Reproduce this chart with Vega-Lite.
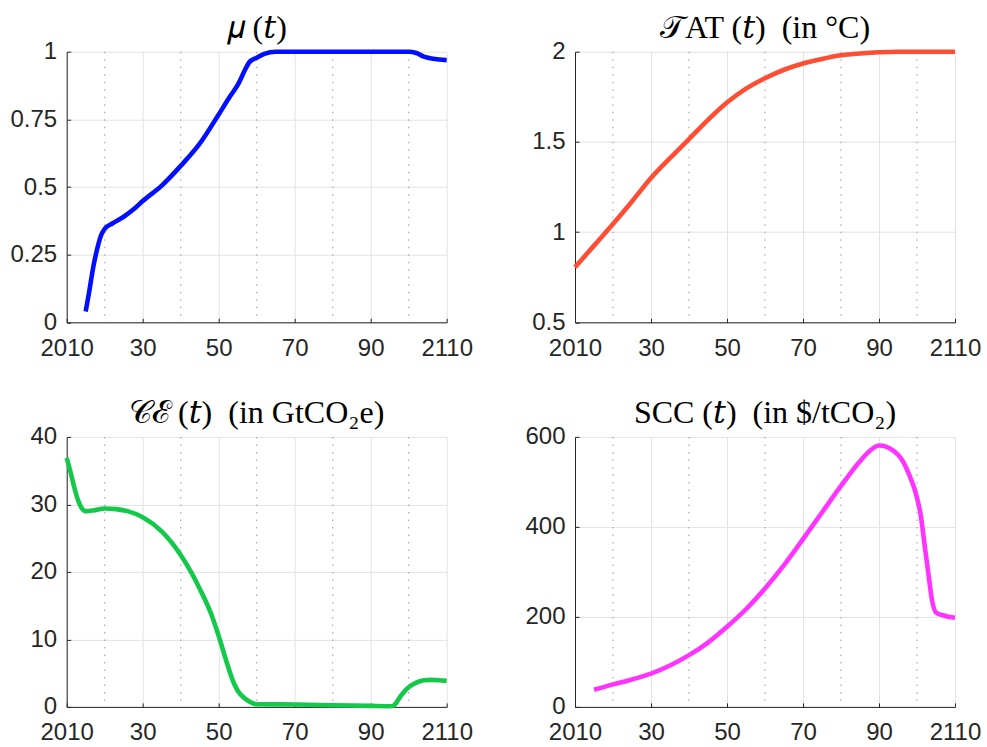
{
  "$schema": "https://vega.github.io/schema/vega-lite/v6.json",
  "autosize": {"type": "none"},
  "padding": {"left": 66.7, "top": 51.7, "right": 920.3, "bottom": 695.3},
  "background": "#ffffff",
  "config": {
    "view": {"stroke": null},
    "axis": {
      "domainColor": "#262626", "domainWidth": 1,
      "tickColor": "#262626", "tickWidth": 1, "tickSize": -4,
      "labelColor": "#262626", "labelFont": "Liberation Sans", "labelFontSize": 24,
      "gridColor": "#e2e2e2", "gridWidth": 1,
      "labelOverlap": false, "labelFlush": false, "title": null
    },
    "axisX": {"labelPadding": 18},
    "axisY": {"labelPadding": 14},
    "title": {"font": "Liberation Serif, DejaVu Serif", "fontSize": 32, "fontWeight": "normal", "color": "#000000", "anchor": "middle", "offset": -5}
  },
  "datasets": {
    "minor": [{"year": 2020}, {"year": 2040}, {"year": 2060}, {"year": 2080}, {"year": 2100}],
    "mu": [
      {"year": 2015, "v": 0.04}, {"year": 2016, "v": 0.12}, {"year": 2017, "v": 0.205}, {"year": 2018, "v": 0.27},
      {"year": 2019, "v": 0.32}, {"year": 2020, "v": 0.345}, {"year": 2022, "v": 0.365}, {"year": 2025, "v": 0.39},
      {"year": 2028, "v": 0.422}, {"year": 2030, "v": 0.448}, {"year": 2035, "v": 0.505}, {"year": 2040, "v": 0.578},
      {"year": 2045, "v": 0.66}, {"year": 2050, "v": 0.768}, {"year": 2053, "v": 0.835}, {"year": 2055, "v": 0.877},
      {"year": 2057, "v": 0.935}, {"year": 2058, "v": 0.96}, {"year": 2060, "v": 0.978}, {"year": 2062, "v": 0.992},
      {"year": 2065, "v": 1.0}, {"year": 2070, "v": 1.0}, {"year": 2080, "v": 1.0}, {"year": 2090, "v": 1.0},
      {"year": 2100, "v": 1.0}, {"year": 2102, "v": 0.995}, {"year": 2104, "v": 0.982}, {"year": 2106, "v": 0.975},
      {"year": 2108, "v": 0.971}, {"year": 2110, "v": 0.969}
    ],
    "tat": [
      {"year": 2010, "v": 0.805}, {"year": 2015, "v": 0.925}, {"year": 2020, "v": 1.045}, {"year": 2025, "v": 1.17},
      {"year": 2030, "v": 1.30}, {"year": 2035, "v": 1.41}, {"year": 2040, "v": 1.515}, {"year": 2045, "v": 1.622},
      {"year": 2050, "v": 1.718}, {"year": 2055, "v": 1.795}, {"year": 2060, "v": 1.853}, {"year": 2065, "v": 1.90},
      {"year": 2070, "v": 1.935}, {"year": 2075, "v": 1.96}, {"year": 2080, "v": 1.98}, {"year": 2085, "v": 1.99},
      {"year": 2090, "v": 1.997}, {"year": 2095, "v": 2.0}, {"year": 2100, "v": 2.0}, {"year": 2110, "v": 2.0}
    ],
    "ce": [
      {"year": 2010, "v": 36.9}, {"year": 2011, "v": 34.8}, {"year": 2012, "v": 32.5}, {"year": 2013, "v": 30.6},
      {"year": 2014, "v": 29.4}, {"year": 2015, "v": 29.0}, {"year": 2017, "v": 29.1}, {"year": 2020, "v": 29.4},
      {"year": 2023, "v": 29.3}, {"year": 2026, "v": 29.0}, {"year": 2030, "v": 28.1}, {"year": 2035, "v": 26.0},
      {"year": 2040, "v": 22.5}, {"year": 2043, "v": 19.7}, {"year": 2045, "v": 17.5}, {"year": 2048, "v": 13.8},
      {"year": 2050, "v": 10.5}, {"year": 2052, "v": 6.8}, {"year": 2054, "v": 3.5}, {"year": 2055, "v": 2.4},
      {"year": 2057, "v": 1.2}, {"year": 2058, "v": 0.8}, {"year": 2060, "v": 0.4}, {"year": 2070, "v": 0.35},
      {"year": 2080, "v": 0.25}, {"year": 2090, "v": 0.15}, {"year": 2095, "v": 0.1}, {"year": 2096, "v": 0.2},
      {"year": 2098, "v": 1.7}, {"year": 2100, "v": 2.9}, {"year": 2102, "v": 3.6}, {"year": 2104, "v": 3.95},
      {"year": 2106, "v": 4.0}, {"year": 2108, "v": 3.95}, {"year": 2110, "v": 3.85}
    ],
    "scc": [
      {"year": 2015, "v": 38}, {"year": 2020, "v": 50}, {"year": 2025, "v": 61}, {"year": 2030, "v": 74},
      {"year": 2035, "v": 92}, {"year": 2040, "v": 115}, {"year": 2045, "v": 143}, {"year": 2050, "v": 178},
      {"year": 2055, "v": 217}, {"year": 2060, "v": 263}, {"year": 2065, "v": 315}, {"year": 2070, "v": 373},
      {"year": 2075, "v": 432}, {"year": 2080, "v": 491}, {"year": 2085, "v": 546}, {"year": 2088, "v": 572},
      {"year": 2090, "v": 581}, {"year": 2092, "v": 578}, {"year": 2094, "v": 568}, {"year": 2096, "v": 550},
      {"year": 2098, "v": 515}, {"year": 2100, "v": 465}, {"year": 2101, "v": 425}, {"year": 2102, "v": 360},
      {"year": 2103, "v": 296}, {"year": 2104, "v": 235}, {"year": 2105, "v": 210}, {"year": 2107, "v": 203},
      {"year": 2110, "v": 198}
    ]
  },
  "columns": 2,
  "spacing": {"row": 114.2, "column": 128.3},
  "bounds": "flush",
  "concat": [
    {
      "title": "𝜇 (𝑡)",
      "width": 380, "height": 270.6,
      "encoding": {
        "x": {"field": "year", "type": "quantitative", "title": null,
              "scale": {"domain": [2010, 2110], "nice": false, "zero": false},
              "axis": {"values": [2010, 2030, 2050, 2070, 2090, 2110], "format": "d",
                       "labelExpr": "datum.value == 2010 || datum.value == 2110 ? datum.label : '' + (datum.value - 2000)"}}
      },
      "layer": [
        {"data": {"name": "minor"}, "mark": {"type": "rule", "color": "#a8a8a8", "strokeWidth": 1.2, "strokeDash": [1.5, 6]}},
        {"data": {"name": "mu"}, "mark": {"type": "line", "color": "#0010ff", "strokeWidth": 4.6, "interpolate": "monotone", "clip": false},
         "encoding": {"y": {"field": "v", "type": "quantitative", "title": null,
                            "scale": {"domain": [0, 1], "nice": false},
                            "axis": {"values": [0, 0.25, 0.5, 0.75, 1], "labelExpr": "'' + datum.value"}}}}
      ]
    },
    {
      "title": "𝒯AT (𝑡)\u2002(in °C)",
      "width": 380, "height": 270.6,
      "encoding": {
        "x": {"field": "year", "type": "quantitative", "title": null,
              "scale": {"domain": [2010, 2110], "nice": false, "zero": false},
              "axis": {"values": [2010, 2030, 2050, 2070, 2090, 2110], "format": "d",
                       "labelExpr": "datum.value == 2010 || datum.value == 2110 ? datum.label : '' + (datum.value - 2000)"}}
      },
      "layer": [
        {"data": {"name": "minor"}, "mark": {"type": "rule", "color": "#a8a8a8", "strokeWidth": 1.2, "strokeDash": [1.5, 6]}},
        {"data": {"name": "tat"}, "mark": {"type": "line", "color": "#ff4d33", "strokeWidth": 4.6, "interpolate": "monotone", "clip": false},
         "encoding": {"y": {"field": "v", "type": "quantitative", "title": null,
                            "scale": {"domain": [0.5, 2], "nice": false, "zero": false},
                            "axis": {"values": [0.5, 1, 1.5, 2], "labelExpr": "'' + datum.value"}}}}
      ]
    },
    {
      "title": "𝒞ℰ (𝑡)\u2002(in GtCO₂e)",
      "width": 380, "height": 270,
      "encoding": {
        "x": {"field": "year", "type": "quantitative", "title": null,
              "scale": {"domain": [2010, 2110], "nice": false, "zero": false},
              "axis": {"values": [2010, 2030, 2050, 2070, 2090, 2110], "format": "d",
                       "labelExpr": "datum.value == 2010 || datum.value == 2110 ? datum.label : '' + (datum.value - 2000)"}}
      },
      "layer": [
        {"data": {"name": "minor"}, "mark": {"type": "rule", "color": "#a8a8a8", "strokeWidth": 1.2, "strokeDash": [1.5, 6]}},
        {"data": {"name": "ce"}, "mark": {"type": "line", "color": "#14c94a", "strokeWidth": 4.6, "interpolate": "monotone", "clip": false},
         "encoding": {"y": {"field": "v", "type": "quantitative", "title": null,
                            "scale": {"domain": [0, 40], "nice": false},
                            "axis": {"values": [0, 10, 20, 30, 40], "labelExpr": "'' + datum.value"}}}}
      ]
    },
    {
      "title": "SCC (𝑡)\u2002(in $/tCO₂)",
      "width": 380, "height": 270,
      "encoding": {
        "x": {"field": "year", "type": "quantitative", "title": null,
              "scale": {"domain": [2010, 2110], "nice": false, "zero": false},
              "axis": {"values": [2010, 2030, 2050, 2070, 2090, 2110], "format": "d",
                       "labelExpr": "datum.value == 2010 || datum.value == 2110 ? datum.label : '' + (datum.value - 2000)"}}
      },
      "layer": [
        {"data": {"name": "minor"}, "mark": {"type": "rule", "color": "#a8a8a8", "strokeWidth": 1.2, "strokeDash": [1.5, 6]}},
        {"data": {"name": "scc"}, "mark": {"type": "line", "color": "#ff33ff", "strokeWidth": 4.6, "interpolate": "monotone", "clip": false},
         "encoding": {"y": {"field": "v", "type": "quantitative", "title": null,
                            "scale": {"domain": [0, 600], "nice": false},
                            "axis": {"values": [0, 200, 400, 600], "labelExpr": "'' + datum.value"}}}}
      ]
    }
  ]
}
